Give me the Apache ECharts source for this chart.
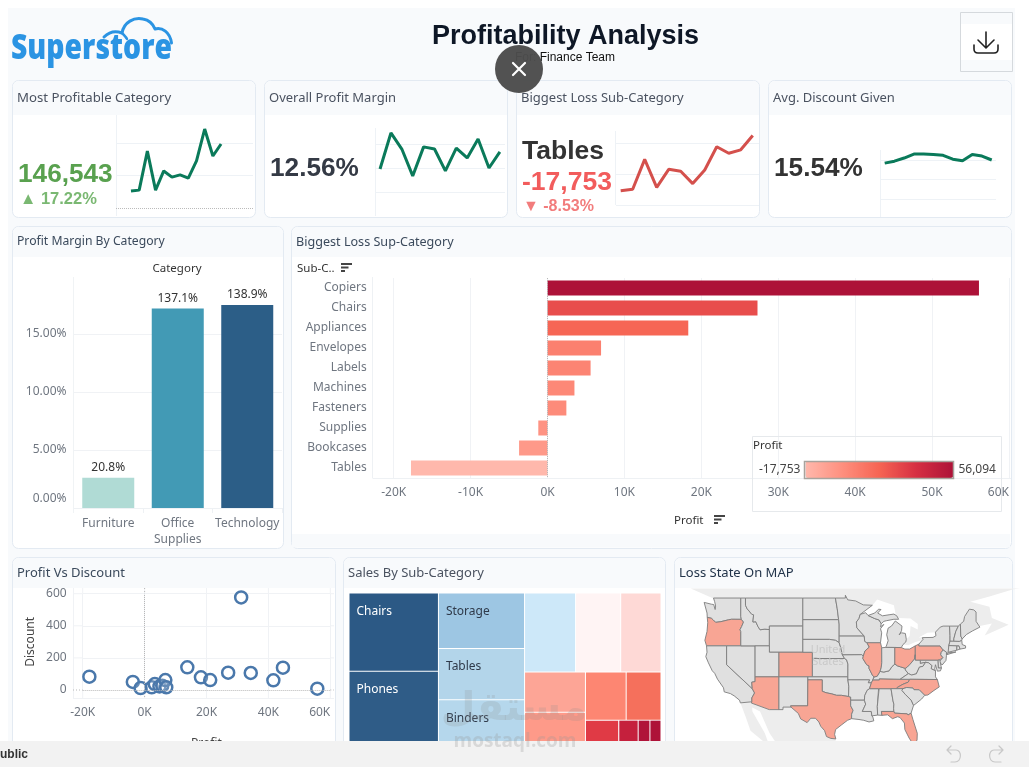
<!DOCTYPE html>
<html><head><meta charset="utf-8">
<style>html,body{margin:0;padding:0;background:#fff;overflow:hidden}#c{width:1029px;height:767px}</style>
<script src="https://cdn.jsdelivr.net/npm/echarts@6/dist/echarts.min.js"></script>
</head><body><div id="c"></div>
<script>
// ---------- data ----------
const months = [1,2,3,4,5,6,7,8,9,10,11,12];
const monthIdx = months.map((m,i)=>i);
const sparkProfit = [5.2,5.5,17.5,5.5,11.4,9.5,10.2,9.2,14.5,24.3,16,19.7];
const sparkMargin = [19.6,34.6,27.9,16.7,28.8,27.9,18.8,28.3,24.2,32.1,20,26.7];
const sparkLoss = [4.6,5.1,14.7,5.7,11.5,10.9,6.9,11.3,18.8,16.7,17.8,22.4];
const sparkDiscount = [14.2,14.7,15.5,16.5,16.5,16.4,16.2,15.2,14.8,16.4,16,15];

const categories = ['Furniture','Office\nSupplies','Technology'];
const categoryMargin = [2.6,17.2,17.5];
const categoryLabels = ['20.8%','137.1%','138.9%'];

const subCategories = ['Copiers','Chairs','Appliances','Envelopes','Labels','Machines','Fasteners','Supplies','Bookcases','Tables'];
const subProfit = [56094,27300,18300,6960,5600,3500,2450,-1200,-3700,-17753];

const scatterProfit = [-17850,-3800,-1300,2300,3300,4800,5700,6700,7000,13800,18200,21200,27000,31200,34300,41600,44700,55800];
const scatterDiscount = [83,50,12,17,37,22,27,62,17,141,79,62,108,577,106,60,139,8];

const salesChairsPhones = [['Chairs',328449],['Phones',330007]];
const salesMid = [['Storage',223844],['Tables',206966],['Binders',203413]];
const salesTop3 = [['Machines',189239],['Accessories',167380],['Copiers',149528]];
const salesBook = [['Bookcases',114880],['Appliances',107532]];
const salesApp = [['Furnishings',91705],['Paper',78479]];
const salesSupplies = [['Supplies',46674]];
const salesSmallLeft = [['Art',27119],['Envelopes',16476]];
const salesSmallRight = [['Labels',12486],['Fasteners',3024]];

const lossStates = ['Oregon','Colorado','Arizona','Texas','Illinois','Ohio','Pennsylvania','Tennessee','North Carolina','Florida'];

// simplified state outlines (lon, lat)
const stateShapes = {
 'Washington':[[[-124.7,48.4],[-123.2,48.15],[-122.7,48.1],[-122.4,47.4],[-122.3,47.9],[-122.5,48.5],[-122.75,49],[-117.03,49],[-117.04,46.42],[-116.92,45.99],[-118.98,46],[-119.6,45.92],[-121.2,45.65],[-122.3,45.55],[-122.8,45.9],[-123.2,46.15],[-124.05,46.27],[-124.1,46.9]]],
 'Oregon':[[[-124.05,46.27],[-123.2,46.15],[-122.8,45.9],[-122.3,45.55],[-121.2,45.65],[-119.6,45.92],[-118.98,46],[-116.92,45.99],[-116.46,45.6],[-116.85,44.95],[-117.2,44.45],[-117.03,44.2],[-117.03,42],[-124.2,42],[-124.55,42.85],[-124.1,44.2],[-123.95,45.5]]],
 'California':[[[-124.2,42],[-120,42],[-120,39],[-114.63,35],[-114.15,34.26],[-114.72,33.4],[-114.72,32.72],[-117.12,32.53],[-117.3,33],[-118.4,33.75],[-119.2,34.15],[-120.5,34.45],[-120.65,35.15],[-121.9,36.6],[-122.5,37.6],[-123,38],[-123.8,39.3],[-124.35,40.3],[-124.1,41]]],
 'Nevada':[[[-120,42],[-114.04,42],[-114.04,36.2],[-114.74,36.1],[-114.63,35],[-120,39]]],
 'Idaho':[[[-117.03,49],[-116.05,49],[-116.05,48],[-115.7,47.5],[-114.7,46.7],[-114.35,46.65],[-114.5,45.6],[-113.9,45.65],[-113.45,44.95],[-113,44.45],[-112,44.55],[-111.05,44.48],[-111.05,42],[-117.03,42],[-117.03,44.2],[-117.2,44.45],[-116.85,44.95],[-116.46,45.6],[-116.92,45.99],[-117.04,46.42]]],
 'Montana':[[[-116.05,49],[-104.05,49],[-104.05,45],[-111.05,45],[-111.05,44.48],[-112,44.55],[-113,44.45],[-113.45,44.95],[-113.9,45.65],[-114.5,45.6],[-114.35,46.65],[-114.7,46.7],[-115.7,47.5],[-116.05,48]]],
 'Wyoming':[[[-111.05,45],[-104.05,45],[-104.05,41],[-111.05,41]]],
 'Utah':[[[-114.04,42],[-111.05,42],[-111.05,41],[-109.05,41],[-109.05,37],[-114.04,37]]],
 'Colorado':[[[-109.05,41],[-102.05,41],[-102.05,37],[-109.05,37]]],
 'Arizona':[[[-114.04,37],[-109.05,37],[-109.05,31.33],[-111.07,31.33],[-114.82,32.5],[-114.72,32.72],[-114.72,33.4],[-114.15,34.26],[-114.63,35],[-114.74,36.1],[-114.04,36.2]]],
 'New Mexico':[[[-109.05,37],[-103,37],[-103.04,32],[-106.6,32],[-106.53,31.78],[-108.2,31.78],[-108.2,31.33],[-109.05,31.33]]],
 'North Dakota':[[[-104.05,49],[-97.23,49],[-96.85,47.5],[-96.56,45.94],[-104.05,45.94]]],
 'South Dakota':[[[-104.05,45.94],[-96.56,45.94],[-96.45,45.3],[-96.45,43.5],[-96.45,42.5],[-97.2,42.85],[-98.5,43],[-104.05,43]]],
 'Nebraska':[[[-104.05,43],[-98.5,43],[-97.2,42.85],[-96.45,42.5],[-96.1,41.7],[-95.9,41],[-95.77,40.58],[-95.31,40],[-102.05,40],[-102.05,41],[-104.05,41]]],
 'Kansas':[[[-102.05,40],[-95.31,40],[-94.9,39.8],[-94.61,39.1],[-94.62,37],[-102.05,37]]],
 'Oklahoma':[[[-103,37],[-94.62,37],[-94.62,36.5],[-94.43,35.4],[-94.48,33.64],[-96,33.85],[-97,33.85],[-98,34.1],[-99.2,34.3],[-100,34.56],[-100,36.5],[-103,36.5]]],
 'Texas':[[[-106.6,32],[-103.04,32],[-103,36.5],[-100,36.5],[-100,34.56],[-99.2,34.3],[-98,34.1],[-97,33.85],[-96,33.85],[-94.48,33.64],[-94.04,33.55],[-94.04,33],[-94.04,32],[-93.53,31.2],[-93.84,30.5],[-93.85,29.7],[-94.7,29.4],[-95.9,28.6],[-97.2,27.7],[-97.4,26.8],[-97.15,25.95],[-98.2,26.05],[-99.1,26.4],[-99.5,27.5],[-100.3,28.3],[-100.7,29.1],[-101.4,29.77],[-102.4,29.77],[-103.15,28.98],[-104.5,29.65],[-105,30.65],[-106.53,31.78]]],
 'Minnesota':[[[-97.23,49],[-95.15,49],[-95.15,49.38],[-94.65,48.75],[-93,48.6],[-91.4,48.05],[-89.5,48],[-92.05,46.7],[-92.3,46.1],[-92.85,45.6],[-92.75,44.75],[-91.2,43.5],[-96.45,43.5],[-96.45,45.3],[-96.56,45.94],[-96.85,47.5]]],
 'Iowa':[[[-96.45,43.5],[-91.2,43.5],[-91.1,42.7],[-90.65,42.5],[-90.15,41.8],[-91.05,41.2],[-91.4,40.38],[-91.73,40.61],[-95.77,40.58],[-95.9,41],[-96.1,41.7],[-96.45,42.5]]],
 'Missouri':[[[-95.77,40.58],[-91.73,40.61],[-91.4,40.38],[-91.5,40],[-90.7,39],[-90.2,38.8],[-90.2,38.4],[-89.5,37.3],[-89.15,36.98],[-89.4,36.5],[-89.7,36],[-90.37,36],[-90.1,36.5],[-94.62,36.5],[-94.62,37],[-94.61,39.1],[-94.9,39.8],[-95.31,40]]],
 'Arkansas':[[[-94.62,36.5],[-90.1,36.5],[-90.37,36],[-89.7,36],[-90.1,35],[-90.6,34.7],[-91.1,33.8],[-91.17,33],[-94.04,33],[-94.04,33.55],[-94.48,33.64],[-94.43,35.4]]],
 'Louisiana':[[[-94.04,33],[-91.17,33],[-90.9,32.3],[-91.6,31],[-89.73,31],[-89.6,30.2],[-89.4,30],[-89.2,29.3],[-90.2,29.1],[-91.3,29.4],[-92.3,29.55],[-93.85,29.7],[-93.84,30.5],[-93.53,31.2],[-94.04,32]]],
 'Mississippi':[[[-91.17,33],[-91.1,33.8],[-90.6,34.7],[-90.1,35],[-88.2,35],[-88.1,34.9],[-88.47,31.9],[-88.4,30.35],[-89.6,30.2],[-89.73,31],[-91.6,31],[-90.9,32.3]]],
 'Alabama':[[[-88.2,35],[-85.6,35],[-85.18,32.87],[-85,32.3],[-85.05,31.55],[-85,31],[-87.6,31],[-87.5,30.3],[-88.4,30.35],[-88.47,31.9],[-88.1,34.9]]],
 'Tennessee':[[[-89.4,36.5],[-88.05,36.5],[-88.05,36.68],[-83.68,36.6],[-81.68,36.59],[-82,36.1],[-83.1,35.75],[-84.3,35.2],[-84.32,34.99],[-88.2,35],[-90.1,35],[-89.7,36]]],
 'Kentucky':[[[-89.4,36.5],[-89.15,36.98],[-88.5,37.1],[-87.9,37.9],[-87.1,37.8],[-86,38],[-85.4,38.7],[-84.8,39.1],[-84.2,38.8],[-83.6,38.65],[-82.6,38.4],[-82.6,38.15],[-81.97,37.54],[-83.68,36.6],[-88.05,36.68],[-88.05,36.5]]],
 'Illinois':[[[-90.65,42.5],[-87.8,42.5],[-87.55,41.7],[-87.53,39.35],[-87.65,38.5],[-87.9,37.9],[-88.5,37.1],[-89.15,36.98],[-89.5,37.3],[-90.2,38.4],[-90.2,38.8],[-90.7,39],[-91.5,40],[-91.4,40.38],[-91.05,41.2],[-90.15,41.8]]],
 'Wisconsin':[[[-92.05,46.7],[-90.9,46.95],[-90.4,46.55],[-89,46.1],[-88.1,45.9],[-87.65,45.35],[-87.8,44.9],[-87.1,45.25],[-87.8,44.6],[-87.55,44],[-87.8,42.5],[-90.65,42.5],[-91.1,42.7],[-91.2,43.5],[-92.75,44.75],[-92.85,45.6],[-92.3,46.1]]],
 'Michigan':[[[-90.4,46.55],[-89,46.9],[-88.2,47.45],[-87.7,47.4],[-88.4,46.9],[-87.4,46.5],[-86,46.65],[-85,46.75],[-84.4,46.5],[-84,46],[-85,46],[-86.5,45.8],[-87.1,45.7],[-87.65,45.35],[-88.1,45.9],[-89,46.1]],[[-86.8,41.76],[-84.8,41.75],[-83.45,41.73],[-83.1,42.2],[-82.5,42.6],[-82.4,43],[-82.6,43.9],[-83.4,44],[-83.9,43.7],[-83.4,44.3],[-83.3,45],[-84.7,45.75],[-85.5,45],[-86.2,44.7],[-86.5,43.7],[-86.2,42.8],[-86.6,41.9]]],
 'Indiana':[[[-87.55,41.7],[-86.8,41.76],[-84.8,41.75],[-84.8,39.1],[-85.4,38.7],[-86,38],[-87.1,37.8],[-87.9,37.9],[-87.65,38.5],[-87.53,39.35]]],
 'Ohio':[[[-84.8,41.75],[-83.45,41.73],[-82.7,41.5],[-81.7,41.5],[-80.52,42],[-80.52,40.64],[-80.7,39.9],[-81.7,39],[-82.2,38.6],[-82.6,38.4],[-83.6,38.65],[-84.2,38.8],[-84.8,39.1]]],
 'Pennsylvania':[[[-80.52,42],[-79.76,42.27],[-79.76,42],[-75.35,42],[-74.7,41.36],[-75.1,40.95],[-75.2,40.6],[-74.72,40.15],[-75.4,39.8],[-75.8,39.72],[-79.48,39.72],[-80.52,39.72],[-80.52,40.64]]],
 'New York':[[[-79.76,42.27],[-78.9,43],[-79.05,43.27],[-76.8,43.3],[-76.2,43.55],[-76.3,44.1],[-75.3,44.85],[-74.7,45],[-73.35,45],[-73.25,43.6],[-73.25,42.75],[-73.5,42.05],[-73.5,41.3],[-73.65,41],[-74,40.7],[-74,41],[-74.7,41.36],[-75.35,42],[-79.76,42]],[[-74,40.6],[-72,41.05],[-73.6,40.9]]],
 'New Jersey':[[[-74.7,41.36],[-74,41],[-74,40.5],[-74.1,39.7],[-74.9,38.95],[-75.5,39.5],[-74.72,40.15],[-75.2,40.6],[-75.1,40.95]]],
 'Delaware':[[[-75.8,39.72],[-75.4,39.8],[-75.05,38.45],[-75.7,38.46]]],
 'Maryland':[[[-79.48,39.72],[-75.8,39.72],[-75.7,38.46],[-75.05,38.45],[-75.25,38],[-75.9,37.95],[-76.3,39],[-76.45,38.3],[-76.3,38],[-77.2,38.35],[-77.05,38.85],[-77.7,39.3],[-78.35,39.4],[-79.48,39.2]]],
 'West Virginia':[[[-80.52,40.64],[-80.52,39.72],[-79.48,39.72],[-79.48,39.2],[-78.35,39.4],[-78.9,38.75],[-79.65,38.6],[-80.3,37.5],[-81.3,37.3],[-81.97,37.54],[-82.6,38.15],[-82.6,38.4],[-82.2,38.6],[-81.7,39],[-80.7,39.9]]],
 'Virginia':[[[-83.68,36.6],[-81.97,37.54],[-81.3,37.3],[-80.3,37.5],[-79.65,38.6],[-78.9,38.75],[-78.35,39.4],[-77.7,39.3],[-77.05,38.85],[-77.2,38.35],[-76.3,38],[-76.3,37],[-75.9,36.55],[-81.68,36.59]]],
 'North Carolina':[[[-84.32,34.99],[-84.3,35.2],[-83.1,35.75],[-82,36.1],[-81.68,36.59],[-75.9,36.55],[-75.5,35.3],[-76.6,34.7],[-77.9,33.9],[-78.55,33.85],[-79.7,34.8],[-80.8,34.82],[-81,35.1],[-82.3,35.2],[-83.1,35]]],
 'South Carolina':[[[-83.1,35],[-82.3,35.2],[-81,35.1],[-80.8,34.82],[-79.7,34.8],[-78.55,33.85],[-79.2,33.2],[-80.9,32.05],[-81.4,33],[-82.6,34],[-83.35,34.7]]],
 'Georgia':[[[-85.6,35],[-84.32,34.99],[-83.1,35],[-83.35,34.7],[-82.6,34],[-81.4,33],[-80.9,32.05],[-81.4,30.7],[-82.05,30.36],[-82.2,30.57],[-84.86,30.7],[-85,31],[-85.05,31.55],[-85,32.3],[-85.18,32.87]]],
 'Florida':[[[-87.6,31],[-85,31],[-84.86,30.7],[-82.2,30.57],[-82.05,30.36],[-81.4,30.7],[-81,29.5],[-80.1,27],[-80.15,25.75],[-80.5,25.2],[-81.1,25.15],[-81.8,26.1],[-82.7,27.7],[-82.8,28.9],[-83.7,29.9],[-84.2,30.05],[-85.3,29.7],[-86.3,30.4],[-87.5,30.3]]],
 'Connecticut':[[[-73.5,42.05],[-71.8,42.02],[-71.85,41.32],[-73.65,41]]],
 'Rhode Island':[[[-71.8,42.02],[-71.38,42.02],[-71.15,41.5],[-71.85,41.32]]],
 'Massachusetts':[[[-73.5,42.05],[-73.25,42.75],[-72.46,42.73],[-71.3,42.7],[-70.8,42.87],[-70.7,42.2],[-70,42],[-70,41.65],[-71.15,41.5],[-71.38,42.02],[-71.8,42.02]]],
 'Vermont':[[[-73.35,45],[-71.5,45],[-72.05,44.2],[-72.45,43.1],[-72.46,42.73],[-73.25,42.75],[-73.25,43.6]]],
 'New Hampshire':[[[-71.5,45],[-71.08,45.3],[-71,43.5],[-70.7,43.07],[-70.8,42.87],[-71.3,42.7],[-72.46,42.73],[-72.45,43.1],[-72.05,44.2]]],
 'Maine':[[[-71.08,45.3],[-70.4,45.7],[-70.2,46.4],[-69.2,47.45],[-68.3,47.35],[-67.8,47.05],[-67.8,45.7],[-67,44.85],[-68.5,44.3],[-69.8,43.75],[-70.7,43.07],[-71,43.5]]]
};
const backgroundShapes = {
 'Canada':[[[-127.5,50.3],[-123,49],[-122.75,49],[-95.15,49],[-95.15,49.38],[-94.65,48.75],[-93,48.6],[-91.4,48.05],[-89.5,48],[-88.5,48.8],[-85,48],[-84.6,46.6],[-84,46.2],[-81.5,46.1],[-80,45.3],[-80,44.5],[-81.5,45],[-81.7,43.5],[-82.4,43],[-82.5,42.6],[-83.1,42.2],[-82,42.1],[-80.5,42.6],[-78.9,42.9],[-79.05,43.27],[-79.8,43.3],[-78,44],[-76.3,44.1],[-75.3,44.85],[-74.7,45],[-71.5,45],[-71.08,45.3],[-70.4,45.7],[-70.2,46.4],[-69.2,47.45],[-68.3,47.35],[-67.8,47.05],[-67.8,45.7],[-67,45],[-64.5,45.4],[-66,43.6],[-61,45.2],[-64.5,46.2],[-65,47.8],[-69,48.5],[-65,49.2],[-60,50.2],[-58.6,50.3]]],
 'Mexico':[[[-114.82,32.5],[-111.07,31.33],[-109.05,31.33],[-108.2,31.33],[-108.2,31.78],[-106.53,31.78],[-105,30.65],[-104.5,29.65],[-103.15,28.98],[-102.4,29.77],[-101.4,29.77],[-100.7,29.1],[-100.3,28.3],[-99.5,27.5],[-99.1,26.4],[-98.2,26.05],[-97.15,25.95],[-97.6,23],[-108,23],[-111,27],[-113,31],[-114.82,31.8]],[[-117.12,32.53],[-114.72,32.72],[-114.6,31],[-112,27],[-111,24.5],[-115,27.5],[-116,30]]]
};

// ---------- helpers ----------
const UI = '"Noto Sans", sans-serif';
const HEAD = '"Liberation Sans", Arial, sans-serif';
const els = [];
let pathId = 0;
const txt = (x,y,t,font,fill,o={}) => els.push({type:'text',x,y,z:o.z??4,scaleX:o.sx??1,style:{text:t,font,fill,textAlign:o.align||'left',textVerticalAlign:'middle',opacity:o.op??1}});
const rect = (x,y,w,h,fill,o={}) => els.push({type:'rect',z:o.z??4,shape:{x,y,width:w,height:h,r:o.r||0},style:{fill,stroke:o.stroke||null,lineWidth:o.lw||0}});
const line = (x1,y1,x2,y2,stroke,o={}) => els.push({type:'line',z:o.z??1,shape:{x1,y1,x2,y2},style:{stroke,lineWidth:o.lw||1,lineDash:o.dash||null}});
const path = (d,stroke,lw,o={}) => {
  const name='svgPath'+(++pathId);
  echarts.graphic.registerShape(name,echarts.graphic.extendPath(d,{}));
  els.push({type:name,z:o.z??4,style:{fill:o.fill||null,stroke,lineWidth:lw,lineCap:'round',lineJoin:'round'}});
};
const panel = (x,y,w,h,hh,title,fs,col) => {
  rect(x+.5,y+.5,w,h,'#fff',{z:-5,r:6,stroke:'#e3eaf2',lw:1});
  rect(x+1,y+1,w-1,hh-1,'#f8fafc',{z:3,r:[6,6,0,0]});
  txt(x+5,y+hh/2+.5,title,(fs||13)+'px '+UI,col||'#4a5260');
};

// dashboard ground
rect(8,8,1007,760,'#f8fafc',{z:-10});
panel(12,80,243,137,35,'Most Profitable Category',13.2);
panel(264,80,243,137,35,'Overall Profit Margin');
panel(516,80,243,137,35,'Biggest Loss Sub-Category');
panel(768,80,243,137,35,'Avg. Discount Given');
panel(12,226,271,322,31,'Profit Margin By Category',12.2,'#3b4a5c');
panel(291,226,720,322,31,'Biggest Loss Sup-Category',12.6,'#3b4a5c');
rect(292,534,718,13.5,'#f8fafc',{z:-4});
panel(12,557,323,220,31,'Profit Vs Discount',13,'#3b4a5c');
panel(343,557,322,220,31,'Sales By Sub-Category',13,'#4a5260');
panel(674,557,338,220,31,'Loss State On MAP',13,'#22344a');

// header
txt(565.5,36.5,'Profitability Analysis','bold 27px '+HEAD,'#0e1726',{align:'center'});
txt(565,58,'For: Finance Team','12px '+HEAD,'#111',{align:'center'});
txt(11,49,'Superstore','800 35px "Open Sans", sans-serif','#2b94e3',{z:4,sx:.81});
path('M104 37 C110 31 117 31 122 33 C124 22 134 17 143 19 C149 20 153 24 155 29 C162 27 170 32 171.5 43','#2b94e3',3);
path('M122 33 C124 35 126 37 127 39','#2b94e3',2.5);
rect(960.5,12.5,52,59,'#f8fafc',{stroke:'#d5d9dd',lw:1,z:4});
rect(961,24,51,36,'#ffffff',{z:4});
path('M986 32 V47 M978 40 L986 48 L994 40 M974 45 V49 Q974 53 978 53 H994 Q998 53 998 49 V45','#222',1.6,{z:5});

// KPI text
txt(18,175,'146,543','bold 26.2px '+HEAD,'#59a14f');
txt(20,199,'▲ 17.22%','bold 16.5px '+HEAD,'#7ab872');
txt(270,168.5,'12.56%','bold 26.2px '+HEAD,'#343a45');
txt(522,152,'Tables','bold 26.5px '+HEAD,'#333');
txt(522,183,'-17,753','bold 26.5px '+HEAD,'#f25c5c');
txt(523,207,'▼ -8.53%','bold 16px '+HEAD,'#f27c7c');
txt(774,168.5,'15.54%','bold 26.2px '+HEAD,'#333');

// decorative axis rules on sparklines
line(116.5,115,116.5,216,'#eef2f6');
line(375.5,128,375.5,216,'#eef2f6');
line(615.5,131,615.5,205,'#eef2f6');
line(880.5,150,880.5,217,'#eef2f6');

// chart captions
txt(177,268.5,'Category','11.5px '+UI,'#333',{align:'center'});
line(73.5,277,73.5,513,'#f0f3f5');
txt(297,268.5,'Sub-C..','11.5px '+UI,'#333');
const sortIcon=(x,y)=>{rect(x,y,11,2,'#444');rect(x,y+3.5,7.5,2,'#444');rect(x,y+7,4,2,'#444');};
sortIcon(341,263);
txt(674,520.5,'Profit','11.5px '+UI,'#333');
sortIcon(714,515);
line(372.5,277,372.5,478,'#eef1f4');
line(372.5,478.5,1011,478.5,'#eef1f4');
rect(752.5,436.5,249,75,null,{stroke:'#e6e9ec',lw:1,z:1});
txt(753,446,'Profit','11.5px '+UI,'#333',{z:5});
rect(804.5,461.5,149,17,null,{stroke:'#a8a39d',lw:1.5,z:6});
// scatter frame: rules run a little past the plot area
const gridRule='#f0f2f5';
line(73.5,588,73.5,698,gridRule);
line(73,698.5,334,698.5,gridRule);
[593.7,625.8,657.9].forEach(y=>{line(73,y,82.7,y,gridRule);line(330.3,y,334,y,gridRule);});
[82.7,144.6,206.5,268.4,330.3].forEach(x=>{line(x,588,x,593.7,gridRule);line(x,690,x,698,gridRule);});
line(144.6,588,144.6,593.7,'#b8b8b8',{dash:[1,2]});line(144.6,690,144.6,698,'#b8b8b8',{dash:[1,2]});
line(73,690,82.7,690,'#b8b8b8',{dash:[1,2]});line(330.3,690,334,690,'#b8b8b8',{dash:[1,2]});

// bottom strip + overlays
txt(514,710,'مستقل','bold 40px "DejaVu Sans", sans-serif','rgba(140,140,140,.2)',{align:'center',z:6});
rect(0,741,1029,26,'#f2f2f2',{z:10});
txt(515,742,'mostaql.com','bold 19px "Open Sans", sans-serif','rgba(150,150,150,.28)',{align:'center',z:11});
txt(0,755,'ublic','bold 12px '+HEAD,'#333',{z:11});
path('M947 750 L951 746 M947 750 L951 754 M947 750 H956 C962 750 962 762 955 762 H951','#c8c8c8',1.2,{z:11});
path('M1003 750 L999 746 M1003 750 L999 754 M1003 750 H994 C988 750 988 762 995 762 H1001','#c8c8c8',1.2,{z:11});
els.push({type:'circle',z:12,shape:{cx:519,cy:69,r:24},style:{fill:'#4c4c4c',opacity:.97}});
path('M513 63 L525 75 M525 63 L513 75','#fff',2.2,{z:13});
txt(828,650,'United','11px '+UI,'#c9c9c9',{align:'center',z:3});
txt(828,662,'States','11px '+UI,'#c9c9c9',{align:'center',z:3});

// ---------- map ----------
const feat = (name,rings)=>({type:'Feature',properties:{name},geometry:{type:'MultiPolygon',coordinates:rings.map(r=>[r])}});
const features = [
  ...Object.keys(backgroundShapes).map(k=>feat(k,backgroundShapes[k])),
  ...Object.keys(stateShapes).map(k=>feat(k,stateShapes[k]))
];
echarts.registerMap('usa',{type:'FeatureCollection',features});
const rad=Math.PI/180;
const mercY = lat => Math.log(Math.tan(Math.PI/4+lat*rad/2))/rad;

// ---------- treemap ----------
const leafColors = {Chairs:'#2c5985',Phones:'#2f5c87',Storage:'#9dc6e3',Tables:'#b3d5ea',Binders:'#b5d7ec',Machines:'#cde8f9',Accessories:'#fff4f4',Copiers:'#fed9d6',Bookcases:'#fda596',Appliances:'#fe9a89',Furnishings:'#fd8672',Paper:'#f5705c',Supplies:'#e03a45',Art:'#c5203d',Envelopes:'#b01339',Labels:'#ae1238',Fasteners:'#ad1238'};
const namedLeaves = {Chairs:'#fff',Phones:'#fff',Storage:'#2f3a4a',Tables:'#2f3a4a',Binders:'#2f3a4a'};
const leaf = ([name,value])=>({name,value,
  itemStyle:{color:leafColors[name],borderWidth:.5,borderColor:'#fff'},
  label:{show:!!namedLeaves[name],position:[2,7],color:namedLeaves[name]||'#000',fontFamily:UI,fontSize:12}});
const group=(children,name='')=>({name,children});
const treeData=[
  group(salesChairsPhones.map(leaf)),
  group(salesMid.map(leaf)),
  group([
    group(salesTop3.map(leaf)),
    group([
      group(salesBook.map(leaf)),
      group([
        group(salesApp.map(leaf)),
        group([...salesSupplies.map(leaf),
          group([group(salesSmallLeft.map(leaf)),group(salesSmallRight.map(leaf))])])
      ])
    ])
  ])
];

// ---------- sparklines ----------
const sparks=[
 {g:[116,110.5,137,97.5],x:[-1.83,14.9],y:[0,30],iv:10,data:sparkProfit,color:'#0a7a5a',zero:true},
 {g:[376,120,129,72],x:[-0.37,11.47],y:[10,40],iv:10,data:sparkMargin,color:'#0a7a5a'},
 {g:[616,112,143,93],x:[-0.39,11.52],y:[0,30],iv:10,data:sparkLoss,color:'#d4504c'},
 {g:[881,140.35,115,58.95],x:[-0.38,11.44],y:[5,20],iv:5,data:sparkDiscount,color:'#0a7a5a'}
];
const grids=[],xAxes=[],yAxes=[],series=[];
sparks.forEach((s,i)=>{
  grids.push({left:s.g[0],top:s.g[1],width:s.g[2],height:s.g[3]});
  xAxes.push({gridIndex:i,type:'value',show:false,min:s.x[0],max:s.x[1],splitLine:{show:false}});
  yAxes.push({gridIndex:i,type:'value',min:s.y[0],max:s.y[1],interval:s.iv,
    axisLine:{show:false},axisTick:{show:false},axisLabel:{show:false},
    splitLine:{show:true,showMinLine:!s.zero,showMaxLine:false,lineStyle:{color:'#eef2f6',width:1}}});
  series.push({type:'line',xAxisIndex:i,yAxisIndex:i,showSymbol:false,silent:true,
    data:s.data.map((v,k)=>[monthIdx[k],v]),lineStyle:{color:s.color,width:3},
    markLine:s.zero?{silent:true,symbol:'none',label:{show:false},lineStyle:{color:'#bbb',type:'dotted',width:1},data:[{yAxis:0}]}:undefined});
});
const axisText={color:'#6f7680',fontFamily:UI,fontSize:12};
const lightSplit={show:true,lineStyle:{color:'#f0f2f5',width:1}};
const dotted={color:'#b8b8b8',type:'dotted',width:1};

// category margin (grid 4)
grids.push({left:73.5,top:276,width:208.5,height:232});
xAxes.push({gridIndex:4,type:'category',data:categories,axisLine:{lineStyle:{color:'#eef1f4'}},axisTick:{show:true,length:5,lineStyle:{color:'#eef1f4'}},axisLabel:{...axisText,margin:8,lineHeight:16,interval:0}});
yAxes.push({gridIndex:4,type:'value',min:0,max:20,interval:5,axisLine:{show:false},axisTick:{show:false},
  axisLabel:{...axisText,margin:7,showMaxLabel:false,
    formatter:v=>v===0?'{low|0.00%}':v.toFixed(2)+'%',
    rich:{low:{...axisText,padding:[0,0,18,0]}}},
  splitLine:{show:true,showMaxLine:false,lineStyle:{color:'#f0f2f5'}}});
const catColors=['#b0dbd5','#429ab5','#2c5e87'];
series.push({type:'bar',xAxisIndex:4,yAxisIndex:4,barWidth:52,silent:true,
  data:categoryMargin.map((v,i)=>({value:v,itemStyle:{color:catColors[i]},
    label:{show:true,position:'top',distance:4,formatter:categoryLabels[i],color:'#333',fontFamily:UI,fontSize:12}}))});

// sub-category profit (grid 5)
grids.push({left:393.7,top:278,width:615.3,height:200});
xAxes.push({gridIndex:5,type:'value',min:-20000,max:60000,interval:10000,axisLine:{show:false},axisTick:{show:false},
  axisLabel:{...axisText,margin:9,alignMaxLabel:'right',formatter:v=>(v/1000)+'K'},splitLine:lightSplit});
yAxes.push({gridIndex:5,type:'category',inverse:true,data:subCategories,axisLine:{show:false,onZero:false},axisTick:{show:false},
  axisLabel:{...axisText,margin:27}});
const barSeriesIndex=series.length;
series.push({type:'bar',xAxisIndex:5,yAxisIndex:5,barWidth:15,silent:true,data:subProfit,
  markLine:{silent:true,symbol:'none',label:{show:false},lineStyle:dotted,data:[{xAxis:0}]}});

// profit vs discount (grid 6)
grids.push({left:82.7,top:593.7,width:247.6,height:96.3});
xAxes.push({gridIndex:6,type:'value',min:-20000,max:60000,interval:20000,axisLine:{show:false},axisTick:{show:false},
  axisLabel:{...axisText,margin:17,alignMaxLabel:'right',formatter:v=>(v/1000)+'K'},splitLine:lightSplit,
  name:'Profit',nameLocation:'middle',nameGap:48,nameTextStyle:{color:'#444',fontFamily:UI,fontSize:12}});
yAxes.push({gridIndex:6,type:'value',min:0,max:600,interval:200,axisLine:{show:false},axisTick:{show:false},
  axisLabel:{...axisText,margin:16},splitLine:{show:true,showMinLine:false,lineStyle:{color:'#f0f2f5'}},
  name:'Discount',nameLocation:'middle',nameRotate:90,nameGap:46,nameTextStyle:{color:'#444',fontFamily:UI,fontSize:12}});
series.push({type:'scatter',xAxisIndex:6,yAxisIndex:6,symbolSize:12,silent:true,
  data:scatterProfit.map((p,i)=>[p,scatterDiscount[i]]),
  itemStyle:{color:'rgba(255,255,255,.15)',borderColor:'#4a78ab',borderWidth:2.5,opacity:1},
  markLine:{silent:true,symbol:'none',label:{show:false},lineStyle:dotted,data:[{xAxis:0},{yAxis:0}]}});

// treemap
series.push({type:'treemap',left:349,top:593,width:312,height:157,roam:false,nodeClick:false,sort:false,
  silent:true,breadcrumb:{show:false},visibleMin:0,squareRatio:1,
  itemStyle:{borderWidth:0,gapWidth:0,borderColor:'#fff'},label:{show:false},upperLabel:{show:false},
  data:treeData});

const option={
  animation:false,backgroundColor:'transparent',
  graphic:{elements:els},
  grid:grids,xAxis:xAxes,yAxis:yAxes,series,
  visualMap:{type:'continuous',seriesIndex:barSeriesIndex,dimension:0,min:-17753,max:56094,orient:'horizontal',
    left:744,top:446,itemWidth:17,itemHeight:148,textGap:5,calculable:false,realtime:false,
    text:['56,094','-17,753'],textStyle:{color:'#444',fontFamily:UI,fontSize:12},
    inRange:{color:['#ffb8ac','#fe8f7e','#f66453','#d62f42','#ad1238']}},
  geo:{map:'usa',silent:true,roam:false,left:675,top:588,width:346,height:153,aspectScale:1,
    projection:{project:c=>[c[0],-mercY(c[1])],unproject:p=>[p[0],(2*Math.atan(Math.exp(-p[1]*rad))-Math.PI/2)/rad]},
    boundingCoords:[[-130.8,50.36],[-58.4,25.56]],
    label:{show:false},
    itemStyle:{areaColor:'#e0e0e0',borderColor:'#7d7d7d',borderWidth:.9},
    regions:[
      ...Object.keys(backgroundShapes).map(name=>({name,itemStyle:{areaColor:'#ededed',borderWidth:0,borderColor:'#ededed'}})),
      ...lossStates.map(name=>({name,itemStyle:{areaColor:'#f8a594'}}))
    ]}
};
const chart=echarts.init(document.getElementById('c'),null,{renderer:'canvas',width:1029,height:767});
chart.setOption(option);
</script></body></html>
